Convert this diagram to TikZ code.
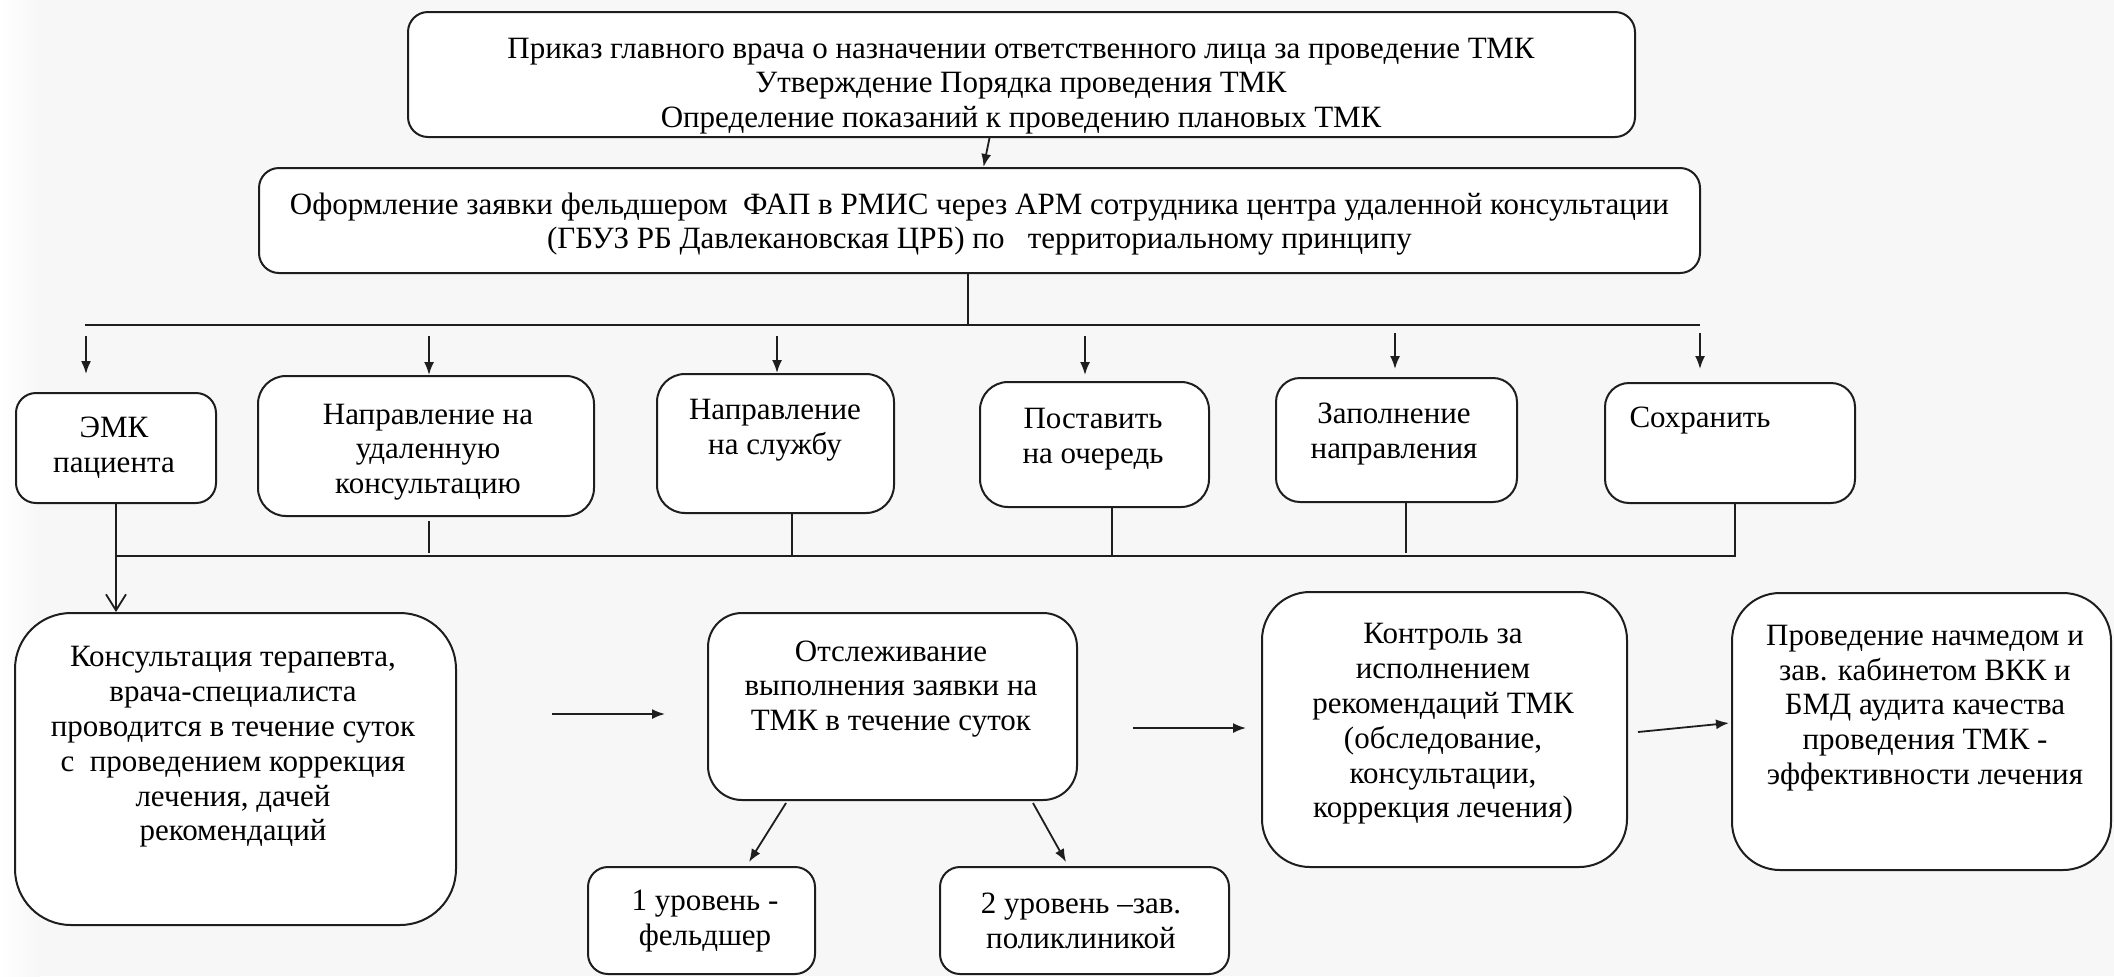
\documentclass[tikz,border=0pt]{standalone}
\usepackage{fontspec}
\setmainfont{Liberation Serif}
\newfontfamily\tnr{Liberation Serif}
\usetikzlibrary{arrows.meta,fit,calc}
\definecolor{bg}{HTML}{F7F7F7}
\definecolor{lc}{HTML}{1E1E1E}
\begin{document}
\begin{tikzpicture}[x=0.5pt,y=-0.5pt,
  box/.style={draw=lc, line width=1pt, fill=white, rounded corners=#1, inner sep=0pt},
  box/.default=10pt,
  txt/.style={align=center, inner sep=0pt, text=black, font=\tnr\fontsize{15.5}{17.4}\selectfont},
  wire/.style={draw=lc, line width=0.9pt},
  arr/.style={draw=lc, line width=0.9pt, -{Latex[length=6.5pt,width=5pt]}},
  varr/.style={draw=lc, line width=0.9pt, -{Straight Barb[length=8pt,width=10pt]}}]
\useasboundingbox (0,0) rectangle (2114,976);
\fill[bg] (0,0) rectangle (2114,976);
\shade[left color=white, right color=bg] (0,0) rectangle (40,976);

% boxes
\node[box, fit={(408,12) (1635,137)}] (top) {};
\node[box, fit={(259,168) (1700,273)}] (app) {};
\node[box, fit={(16,393) (216,503)}] (emk) {};
\node[box=14pt, fit={(258,376) (594,516)}] (udal) {};
\node[box=14pt, fit={(657,374) (894,513)}] (sluzh) {};
\node[box=14pt, fit={(980,382) (1209,507)}] (postav) {};
\node[box=12pt, fit={(1276,378) (1517,502)}] (zapol) {};
\node[box=12pt, fit={(1605,383) (1855,503)}] (sokhr) {};
\node[box=28pt, fit={(15,613) (456,925)}] (consult) {};
\node[box=17pt, fit={(708,613) (1077,800)}] (otsl) {};
\node[box=10pt, fit={(588,867) (815,974)}] (lvl1) {};
\node[box=10pt, fit={(940,867) (1229,974)}] (lvl2) {};
\node[box=24pt, fit={(1262,592) (1627,867)}] (kontr) {};
\node[box=24pt, fit={(1732,593) (2111,870)}] (prov) {};

% texts
\node[txt] (ttop) at (1021,86) {Приказ главного врача о назначении ответственного лица за проведение ТМК\\Утверждение Порядка проведения ТМК\\Определение показаний к проведению плановых ТМК};
\node[txt] (tapp) at (979.5,224) {Оформление заявки фельдшером\ \ ФАП в РМИС через АРМ сотрудника центра удаленной консультации\\(ГБУЗ РБ Давлекановская ЦРБ) по\ \ \ территориальному принципу};
\node[txt] (temk) at (114,448) {ЭМК\\пациента};
\node[txt] (tudal) at (428,452) {Направление на\\удаленную\\консультацию};
\node[txt] (tsluzh) at (775,430) {Направление\\на службу};
\node[txt] (tpostav) at (1093,439) {Поставить\\на очередь};
\node[txt] (tzapol) at (1394,434) {Заполнение\\направления};
\node[txt] (tsokhr) at (1700,421) {Сохранить};
\node[txt] (tconsult) at (233,747) {Консультация терапевта,\\врача-специалиста\\проводится в течение суток\\с\ \ проведением коррекция\\лечения, дачей\\рекомендаций};
\node[txt] (totsl) at (891,689) {Отслеживание\\выполнения заявки на\\ТМК в течение суток};
\node[txt] (tlvl1) at (705,921) {1 уровень -\\фельдшер};
\node[txt] (tlvl2) at (1081,921) {2 уровень –зав.\\поликлиникой};
\node[txt] (tkontr) at (1443,724) {Контроль за\\исполнением\\рекомендаций ТМК\\(обследование,\\консультации,\\коррекция лечения)};
\node[txt] (tprov) at (1925,708) {Проведение начмедом и\\зав. кабинетом ВКК и\\БМД аудита качества\\проведения ТМК -\\эффективности лечения};

% top -> app
\draw[arr] ($(top.south)+(-32,0)$) -- ($(app.north)+(4,0)$);

% upper bus
\coordinate (b1) at (85,325);
\coordinate (b2) at (1700,325);
\coordinate (k) at ($(app.south)+(-11.5,0)$);
\draw[wire] (k) -- (k |- b1);
\draw[wire] (b1) -- (b2);

% distribution arrows
\coordinate (s1) at (86,336);
\coordinate (s2) at (429,336);
\coordinate (s3) at (777,336);
\coordinate (s4) at (1085,336);
\coordinate (s5) at (1395,333);
\coordinate (s6) at (1700,333);
\draw[arr, shorten >=9pt] (s1) -- (s1 |- emk.north);
\draw[arr] (s2) -- (s2 |- udal.north);
\draw[arr] (s3) -- (s3 |- sluzh.north);
\draw[arr, shorten >=3pt] (s4) -- (s4 |- postav.north);
\draw[arr, shorten >=4pt] (s5) -- (s5 |- zapol.north);
\draw[arr, shorten >=6.5pt] (s6) -- (s6 |- sokhr.north);

% lower bus
\draw[varr] (emk.south) -- (emk.south |- consult.north);
\draw[wire] (emk.south |- 0,556) -| ($(sokhr.south)+(5,0)$);
\draw[wire] ($(udal.south)+(3,4)$) -- ++(0,32);
\draw[wire] ($(sluzh.south)+(16.5,0)$) -- ++(0,43);
\draw[wire] ($(postav.south)+(17.5,0)$) -- ++(0,49);
\draw[wire] ($(zapol.south)+(9.5,0)$) -- ++(0,50);

% horizontal flow
\draw[arr] ($(consult.east)+(95,-55)$) -- ($(otsl.west)+(-42,7.5)$);
\draw[arr] ($(otsl.south)+(-106.5,2)$) -- ($(lvl1.north)+(47.5,-4)$);
\draw[arr] ($(otsl.south)+(140.5,2)$) -- ($(lvl2.north)+(-18.5,-4)$);
\draw[arr] ($(otsl.east)+(55,21.5)$) -- ($(kontr.west)+(-15,-1.5)$);
\draw[arr] ($(kontr.east)+(10,2.5)$) -- ($(prov.west)+(-2,-8.5)$);
\end{tikzpicture}
\end{document}
